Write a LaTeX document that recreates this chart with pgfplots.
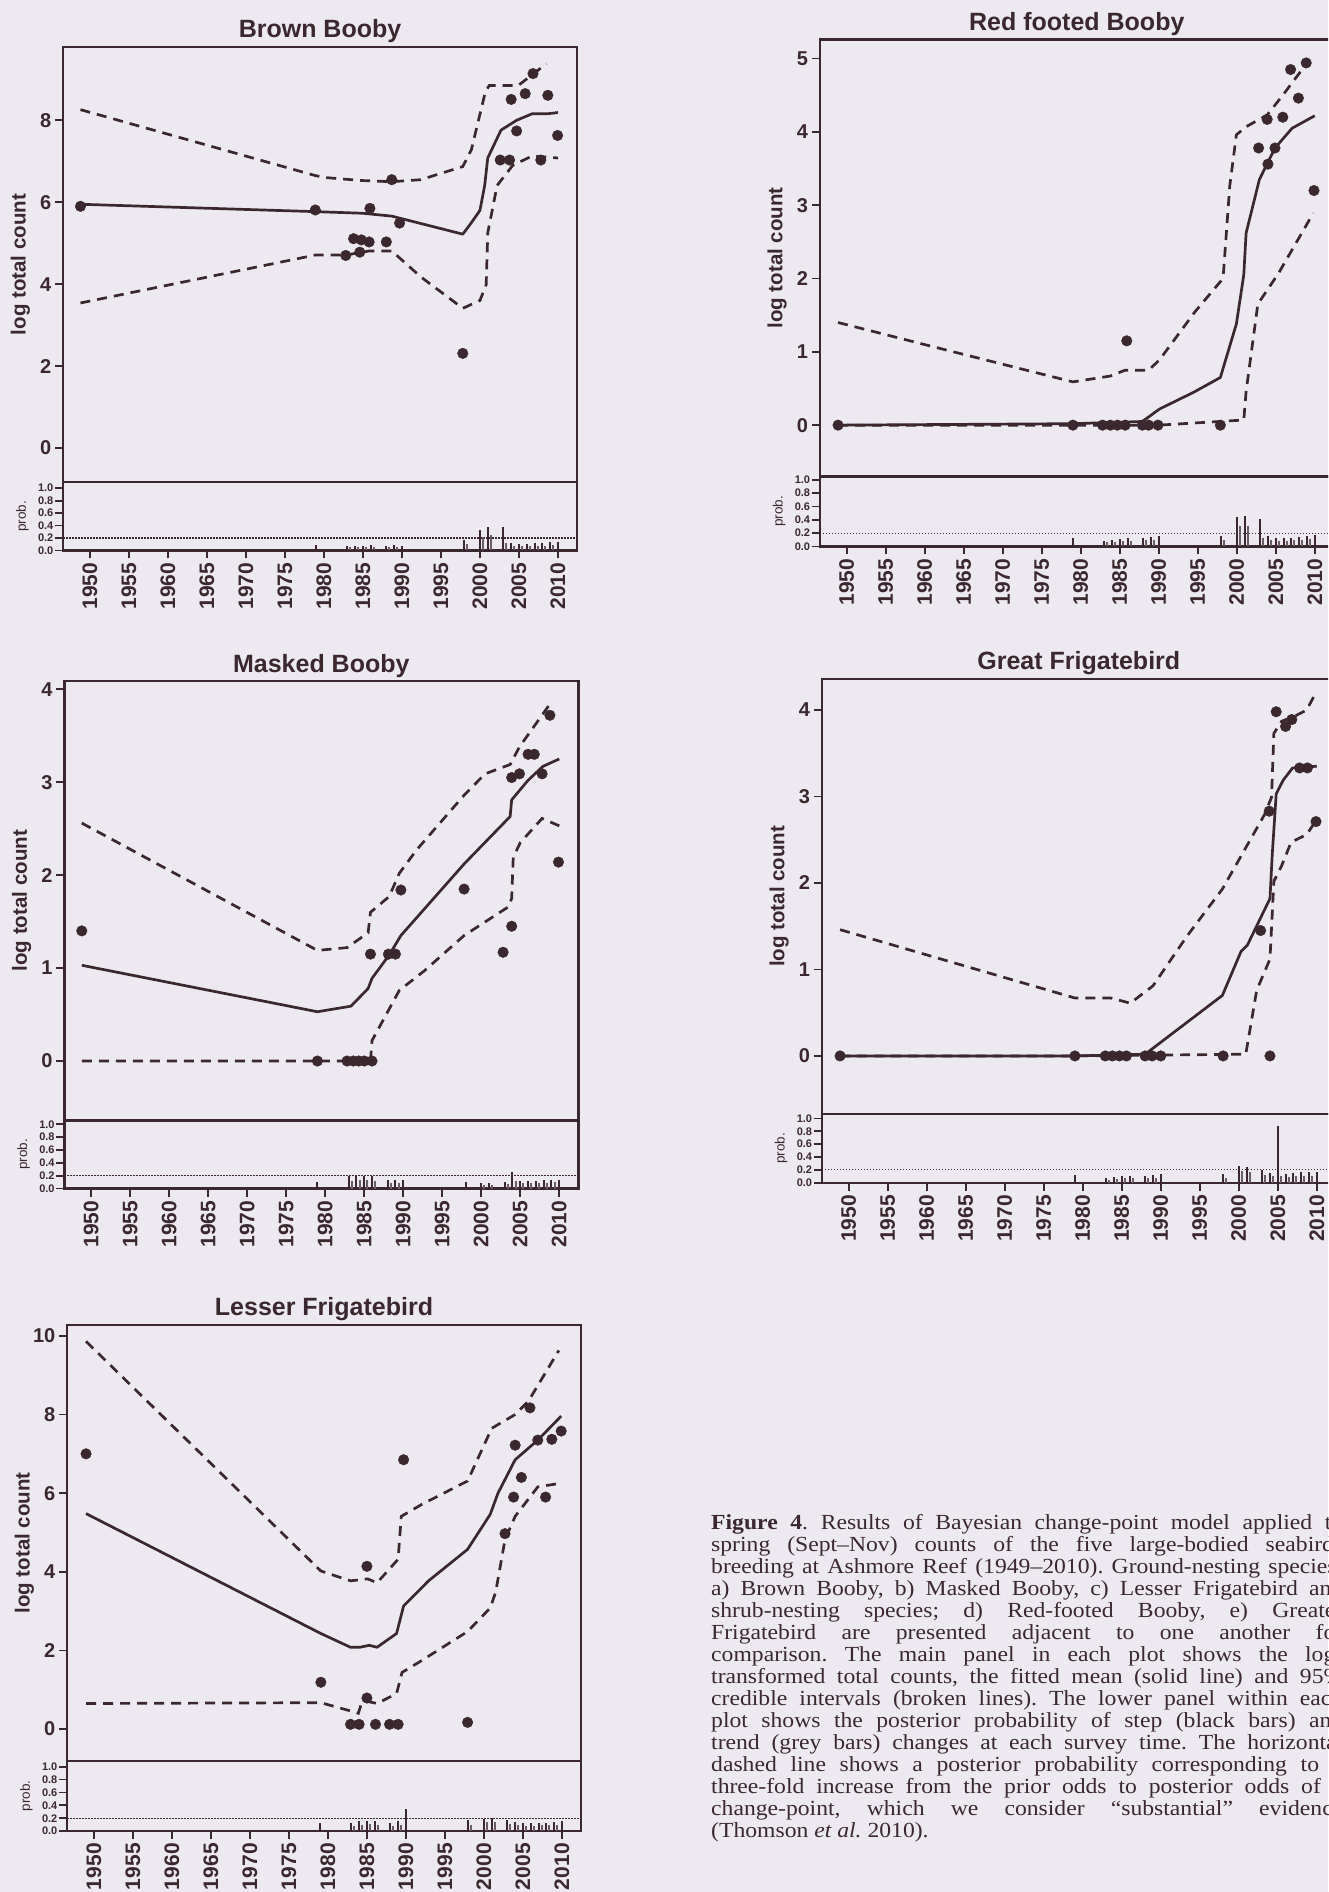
\documentclass[border=0pt]{standalone}
\usepackage{fontspec}
\setmainfont{Liberation Sans}
\newfontfamily\capfont[FakeStretch=1.1]{Liberation Serif}
\usepackage{pgfplots}
\pgfplotsset{compat=1.18}
\definecolor{ink}{RGB}{58,40,46}
\definecolor{bg}{RGB}{236,234,240}
\definecolor{greybar}{RGB}{105,92,98}
\pgfplotsset{
  base/.style={scale only axis, width=514pt, xmin=1946.56, xmax=2012.44,
    axis line style={ink, line width=2.4pt},
    tick style={ink, line width=1.7pt},
    tick align=outside, tick pos=left, major tick length=8pt,
    /pgf/number format/assume math mode=true,
    /pgf/number format/1000 sep={}},
  mainax/.style={base, xtick=\empty,
    yticklabel style={font=\fontsize{20}{20}\selectfont\bfseries, text=ink, inner sep=3.5pt},
    ylabel={log total count},
    ylabel style={font=\fontsize{20.5}{21}\selectfont\bfseries, text=ink, at={(axis description cs:-0.083,0.5)}, anchor=center},
    title style={font=\fontsize{25}{26}\selectfont\bfseries, text=ink, at={(axis description cs:0.5,1)}, anchor=base, yshift=3pt}},
  lowax/.style={base, ymin=0, xtick={1950,1955,...,2010}, ytick={0,0.2,0.4,0.6,0.8,1.0},
    xticklabel style={rotate=90, anchor=east, font=\fontsize{21}{21}\selectfont\bfseries, text=ink, inner sep=4pt},
    yticklabel style={font=\fontsize{11}{11}\selectfont\bfseries, text=ink, inner sep=1.5pt, /pgf/number format/.cd, fixed, fixed zerofill, precision=1},
    ylabel={prob.},
    ylabel style={font=\fontsize{13.5}{14}\selectfont, text=ink, at={(axis description cs:-0.079,0.5)}, anchor=center}},
  mypts/.style={ink, only marks, mark=*, mark size=5.3pt, mark options={solid, fill=ink, draw=ink}},
  mymean/.style={ink, line width=2.7pt, mark=none, line join=round},
  myci/.style={ink, line width=2.7pt, mark=none, dash pattern=on 10pt off 7pt},
  mystep/.style={ink, ycomb, line width=2pt, mark=none},
  mytrend/.style={greybar, ycomb, line width=2pt, mark=none},
  mythr/.style={ink, line width=1.1pt, dash pattern=on 1.5pt off 1.5pt, mark=none}
}
\begin{document}
\begin{tikzpicture}
\useasboundingbox (0,0) rectangle (1328pt,1892pt);
\fill[bg] (0,0) rectangle (1328pt,1892pt);
\clip (0,0) rectangle (1328pt,1892pt);

% ---------------- Brown Booby ----------------
\begin{axis}[mainax, at={(63pt,1410pt)}, anchor=south west, height=435pt,
  ymin=-0.83, ymax=9.79, ytick={0,2,4,6,8}, title={Brown Booby}]
\addplot[myci] coordinates {(1948.8,8.26) (1978.9,6.65) (1980.3,6.60) (1984.8,6.53) (1988.7,6.50) (1992.4,6.55) (1997.8,6.87) (1998.9,7.28) (2000.7,8.70) (2001.2,8.85) (2004.9,8.85) (2006.7,9.11) (2008.5,9.38)};
\addplot[myci] coordinates {(1948.8,3.54) (1978.9,4.71) (1982.8,4.71) (1985.8,4.81) (1988.7,4.81) (1992.4,4.18) (1997.8,3.41) (2000.0,3.60) (2000.8,3.99) (2001.0,5.25) (2002.2,6.41) (2004.2,6.90) (2006.7,7.13) (2010.0,7.08)};
\addplot[mymean] coordinates {(1948.8,5.95) (1978.9,5.77) (1985.0,5.73) (1988.7,5.66) (1997.8,5.22) (1998.9,5.50) (2000.0,5.80) (2000.6,6.40) (2001.0,7.08) (2002.7,7.76) (2004.7,8.00) (2006.7,8.16) (2008.7,8.16) (2010.0,8.19)};
\addplot[mypts] coordinates {(1948.8,5.90) (1978.9,5.81) (1982.8,4.70) (1983.8,5.11) (1984.6,4.78) (1984.8,5.08) (1985.8,5.03) (1985.9,5.85) (1988.0,5.03) (1988.7,6.55) (1989.7,5.49) (1997.8,2.31) (2002.6,7.03) (2003.8,7.03) (2004.0,8.51) (2004.7,7.74) (2005.8,8.65) (2006.8,9.14) (2007.8,7.03) (2008.7,8.61) (2009.95,7.63)};
\end{axis}
\begin{axis}[lowax, at={(63pt,1410pt)}, anchor=north west, height=68.5pt, ymax=1.1]
\addplot[mythr] coordinates {(1946.56,0.2) (2012.44,0.2)};
\addplot[mystep] coordinates {(1979,0.09) (1983,0.07) (1984,0.08) (1985,0.08) (1986,0.09) (1988,0.07) (1989,0.09) (1990,0.08) (1998,0.17) (2000,0.33) (2001,0.38) (2003,0.38) (2004,0.12) (2005,0.10) (2006,0.10) (2007,0.12) (2008,0.12) (2009,0.13) (2010,0.14)};
\addplot[mytrend] coordinates {(1983.4,0.05) (1984.4,0.06) (1985.4,0.06) (1986.4,0.05) (1988.4,0.05) (1989.4,0.06) (1998.4,0.10) (2000.4,0.22) (2001.4,0.25) (2003.4,0.12) (2004.4,0.08) (2005.4,0.07) (2006.4,0.07) (2007.4,0.08) (2008.4,0.08) (2009.4,0.09)};
\end{axis}

% ---------------- Red footed Booby ----------------
\begin{axis}[mainax, at={(819.8pt,1415.5pt)}, anchor=south west, height=437pt,
  ymin=-0.70, ymax=5.26, ytick={0,1,2,3,4,5}, title={Red footed Booby}]
\addplot[myci] coordinates {(1948.9,1.40) (1960.7,1.08) (1979.0,0.59) (1983.8,0.67) (1985.7,0.75) (1988.7,0.75) (1990.1,0.89) (1994.6,1.54) (1998.0,1.97) (1998.3,2.08) (1999.1,3.26) (1999.95,3.96) (2001.2,4.07) (2003.9,4.23) (2005.9,4.50) (2008.8,4.91)};
\addplot[myci] coordinates {(1948.9,0) (1979.0,0) (1990.0,0) (2000.9,0.07) (2001.2,0.46) (2002.7,1.65) (2005.4,2.08) (2009.8,2.89)};
\addplot[mymean] coordinates {(1948.9,0) (1979.0,0.02) (1987.9,0.05) (1990.1,0.22) (1994.5,0.45) (1997.9,0.65) (1999.95,1.38) (2000.9,2.05) (2001.2,2.62) (2002.9,3.35) (2004.9,3.78) (2007.1,4.05) (2010.0,4.22)};
\addplot[mypts] coordinates {(1948.9,0) (1979.0,0) (1982.8,0) (1983.8,0) (1984.7,0) (1985.7,0) (1985.9,1.15) (1987.9,0) (1988.7,0) (1989.9,0) (1997.9,0) (2002.8,3.78) (2003.9,4.17) (2004.0,3.56) (2004.9,3.78) (2005.9,4.20) (2006.9,4.85) (2007.9,4.46) (2008.9,4.94) (2009.9,3.20)};
\end{axis}
\begin{axis}[lowax, at={(819.8pt,1415.5pt)}, anchor=north west, height=70pt, ymax=1.05]
\addplot[mythr] coordinates {(1946.56,0.2) (2012.44,0.2)};
\addplot[mystep] coordinates {(1979,0.12) (1983,0.08) (1984,0.10) (1985,0.11) (1986,0.12) (1988,0.13) (1989,0.14) (1990,0.15) (1998,0.15) (2000,0.44) (2001,0.45) (2003,0.41) (2004,0.15) (2005,0.12) (2006,0.12) (2007,0.13) (2008,0.14) (2009,0.16) (2010,0.17)};
\addplot[mytrend] coordinates {(1983.4,0.06) (1984.4,0.07) (1985.4,0.08) (1986.4,0.08) (1988.4,0.09) (1989.4,0.10) (1998.4,0.10) (2000.4,0.30) (2001.4,0.30) (2003.4,0.12) (2004.4,0.10) (2005.4,0.08) (2006.4,0.08) (2007.4,0.09) (2008.4,0.10) (2009.4,0.11)};
\end{axis}

% ---------------- Masked Booby ----------------
\begin{axis}[mainax, at={(64.3pt,771.5pt)}, anchor=south west, height=439.6pt,
  ymin=-0.64, ymax=4.09, ytick={0,1,2,3,4}, title={Masked Booby}, title style={yshift=-1pt}]
\addplot[myci] coordinates {(1948.8,2.56) (1979.0,1.19) (1982.8,1.22) (1985.5,1.38) (1985.8,1.60) (1988.2,1.77) (1989.5,2.02) (1991.7,2.27) (1997.8,2.86) (2000.5,3.09) (2003.7,3.19) (2004.9,3.38) (2008.8,3.84)};
\addplot[myci] coordinates {(1948.8,0) (1979.0,0) (1985.8,0) (1986.0,0.22) (1989.5,0.76) (1992.7,0.97) (1997.8,1.35) (2003.5,1.66) (2003.9,1.75) (2004.1,2.19) (2005.0,2.35) (2007.8,2.61) (2010.0,2.53)};
\addplot[mymean] coordinates {(1948.8,1.03) (1979.0,0.53) (1983.3,0.59) (1985.5,0.78) (1986.0,0.89) (1988.2,1.14) (1989.7,1.35) (1997.8,2.12) (2001.5,2.44) (2003.7,2.63) (2003.9,2.81) (2006.0,3.02) (2007.9,3.17) (2010.0,3.25)};
\addplot[mypts] coordinates {(1948.8,1.40) (1979.0,0) (1982.8,0) (1983.6,0) (1984.3,0) (1985.0,0) (1986.0,0) (1985.8,1.15) (1988.1,1.15) (1989.0,1.15) (1989.7,1.84) (1997.8,1.85) (2002.8,1.17) (2003.9,3.05) (2003.9,1.45) (2004.9,3.09) (2006.0,3.30) (2006.8,3.30) (2007.8,3.09) (2008.8,3.72) (2009.9,2.14)};
\end{axis}
\begin{axis}[lowax, at={(64.3pt,771.5pt)}, anchor=north west, height=68.1pt, ymax=1.06]
\addplot[mythr] coordinates {(1946.56,0.2) (2012.44,0.2)};
\addplot[mystep] coordinates {(1979,0.11) (1983,0.19) (1984,0.19) (1985,0.20) (1986,0.19) (1988,0.13) (1989,0.13) (1990,0.14) (1998,0.10) (2000,0.08) (2001,0.09) (2003,0.10) (2004,0.26) (2005,0.12) (2006,0.12) (2007,0.12) (2008,0.13) (2009,0.14) (2010,0.14)};
\addplot[mytrend] coordinates {(1983.4,0.12) (1984.4,0.13) (1985.4,0.14) (1986.4,0.12) (1988.4,0.08) (1989.4,0.09) (2000.4,0.06) (2001.4,0.06) (2003.4,0.07) (2004.4,0.12) (2005.4,0.08) (2006.4,0.08) (2007.4,0.08) (2008.4,0.09) (2009.4,0.10)};
\end{axis}

% ---------------- Great Frigatebird ----------------
\begin{axis}[mainax, at={(821.8pt,778.1pt)}, anchor=south west, height=435pt,
  ymin=-0.67, ymax=4.36, ytick={0,1,2,3,4}, title={Great Frigatebird}]
\addplot[myci] coordinates {(1948.9,1.46) (1979.0,0.67) (1983.6,0.67) (1986.1,0.61) (1989.0,0.81) (1993.4,1.39) (1997.9,1.93) (2003.3,2.79) (2004.2,2.99) (2004.5,3.73) (2005.5,3.87) (2007.2,3.93) (2008.7,4.00) (2010.0,4.22)};
\addplot[myci] coordinates {(1948.9,0) (1979.0,0) (2000.9,0.02) (2002.3,0.76) (2004.0,1.12) (2004.5,2.02) (2005.5,2.20) (2006.7,2.47) (2008.7,2.56) (2009.9,2.72)};
\addplot[mymean] coordinates {(1948.9,0) (1979.0,0) (1988.0,0.02) (1997.9,0.70) (2000.3,1.21) (2001.1,1.28) (2004.0,1.82) (2004.3,2.34) (2004.8,3.03) (2005.7,3.19) (2006.9,3.33) (2010.0,3.35)};
\addplot[mypts] coordinates {(1948.9,0) (1979.0,0) (1982.9,0) (1983.8,0) (1984.7,0) (1985.6,0) (1988.0,0) (1988.9,0) (1990.0,0) (1998.0,0) (2002.8,1.45) (2003.9,2.83) (2004.0,0) (2004.8,3.98) (2006.0,3.81) (2006.8,3.89) (2007.8,3.33) (2008.8,3.33) (2009.9,2.71)};
\end{axis}
\begin{axis}[lowax, at={(821.8pt,778.1pt)}, anchor=north west, height=68.9pt, ymax=1.07]
\addplot[mythr] coordinates {(1946.56,0.2) (2012.44,0.2)};
\addplot[mystep] coordinates {(1979,0.12) (1983,0.08) (1984,0.09) (1985,0.10) (1986,0.11) (1988,0.11) (1989,0.12) (1990,0.13) (1998,0.13) (2000,0.26) (2001,0.24) (2003,0.20) (2004,0.15) (2005,0.88) (2006,0.14) (2007,0.15) (2008,0.16) (2009,0.17) (2010,0.16)};
\addplot[mytrend] coordinates {(1983.4,0.05) (1984.4,0.06) (1985.4,0.07) (1986.4,0.07) (1988.4,0.07) (1989.4,0.08) (1998.4,0.08) (2000.4,0.18) (2001.4,0.16) (2003.4,0.12) (2004.4,0.10) (2005.4,0.10) (2006.4,0.09) (2007.4,0.10) (2008.4,0.11) (2009.4,0.11)};
\end{axis}

% ---------------- Lesser Frigatebird ----------------
\begin{axis}[mainax, at={(67pt,131.1pt)}, anchor=south west, height=436pt,
  ymin=-0.81, ymax=10.28, ytick={0,2,4,6,8,10}, title={Lesser Frigatebird}]
\addplot[myci] coordinates {(1949.0,9.86) (1979.1,4.02) (1982.9,3.77) (1985.1,3.82) (1986.3,3.72) (1989.0,4.32) (1989.4,5.41) (1992.0,5.71) (1997.9,6.31) (2001.0,7.65) (2004.0,8.00) (2005.7,8.34) (2009.6,9.63)};
\addplot[myci] coordinates {(1949.0,0.65) (1979.1,0.67) (1983.1,0.45) (1983.9,0.40) (1984.3,0.65) (1985.1,0.70) (1986.3,0.65) (1988.8,0.90) (1989.5,1.44) (1992.0,1.74) (1997.9,2.48) (2000.8,3.08) (2001.5,3.48) (2002.7,4.82) (2004.0,5.41) (2006.9,6.16) (2010.1,6.26)};
\addplot[mymean] coordinates {(1949.0,5.48) (1979.1,2.43) (1982.9,2.08) (1984.1,2.08) (1985.3,2.13) (1986.3,2.08) (1988.8,2.43) (1989.7,3.13) (1992.9,3.77) (1997.9,4.57) (2000.8,5.46) (2001.8,6.00) (2004.0,6.85) (2006.9,7.35) (2009.9,7.96)};
\addplot[mypts] coordinates {(1949.0,7.00) (1979.1,1.19) (1982.9,0.12) (1984.0,0.12) (1985.0,4.14) (1985.0,0.79) (1986.1,0.12) (1987.9,0.12) (1989.0,0.12) (1989.7,6.85) (1997.9,0.17) (2002.7,4.97) (2004.0,7.22) (2003.8,5.90) (2004.8,6.40) (2005.9,8.17) (2006.9,7.35) (2007.9,5.90) (2008.7,7.37) (2009.9,7.58)};
\end{axis}
\begin{axis}[lowax, at={(67pt,131.1pt)}, anchor=north west, height=70.2pt, ymax=1.09]
\addplot[mythr] coordinates {(1946.56,0.2) (2012.44,0.2)};
\addplot[mystep] coordinates {(1979,0.13) (1983,0.12) (1984,0.15) (1985,0.16) (1986,0.16) (1988,0.13) (1989,0.16) (1990,0.35) (1998,0.17) (2000,0.19) (2001,0.20) (2003,0.18) (2004,0.14) (2005,0.12) (2006,0.12) (2007,0.13) (2008,0.13) (2009,0.14) (2010,0.16)};
\addplot[mytrend] coordinates {(1983.4,0.08) (1984.4,0.10) (1985.4,0.11) (1986.4,0.10) (1988.4,0.08) (1989.4,0.10) (1998.4,0.10) (2000.4,0.14) (2001.4,0.14) (2003.4,0.11) (2004.4,0.09) (2005.4,0.08) (2006.4,0.08) (2007.4,0.09) (2008.4,0.09) (2009.4,0.10)};
\end{axis}

% ---------------- Caption ----------------
\begin{scope}[every node/.style={anchor=base west, inner sep=0pt, text=ink, font=\capfont\fontsize{21.5}{22}\selectfont\frenchspacing}]
\node at (711pt,362pt) {\makebox[632pt][s]{{\bfseries Figure 4}. Results of Bayesian change-point model applied to}};
\node at (711pt,340pt) {\makebox[632pt][s]{spring (Sept–Nov) counts of the five large-bodied seabirds}};
\node at (711pt,318pt) {\makebox[632pt][s]{breeding at Ashmore Reef (1949–2010). Ground-nesting species;}};
\node at (711pt,296pt) {\makebox[632pt][s]{a) Brown Booby, b) Masked Booby, c) Lesser Frigatebird and}};
\node at (711pt,274pt) {\makebox[632pt][s]{shrub-nesting species; d) Red-footed Booby, e) Greater}};
\node at (711pt,252pt) {\makebox[632pt][s]{Frigatebird are presented adjacent to one another for}};
\node at (711pt,230pt) {\makebox[632pt][s]{comparison. The main panel in each plot shows the log-}};
\node at (711pt,208pt) {\makebox[632pt][s]{transformed total counts, the fitted mean (solid line) and 95\%}};
\node at (711pt,186pt) {\makebox[632pt][s]{credible intervals (broken lines). The lower panel within each}};
\node at (711pt,164pt) {\makebox[632pt][s]{plot shows the posterior probability of step (black bars) and}};
\node at (711pt,142pt) {\makebox[632pt][s]{trend (grey bars) changes at each survey time. The horizontal}};
\node at (711pt,120pt) {\makebox[632pt][s]{dashed line shows a posterior probability corresponding to a}};
\node at (711pt,98pt) {\makebox[632pt][s]{three-fold increase from the prior odds to posterior odds of a}};
\node at (711pt,76pt) {\makebox[632pt][s]{change-point, which we consider “substantial” evidence}};
\node at (711pt,54pt) {(Thomson \textit{et al.} 2010).};
\end{scope}
\end{tikzpicture}
\end{document}
